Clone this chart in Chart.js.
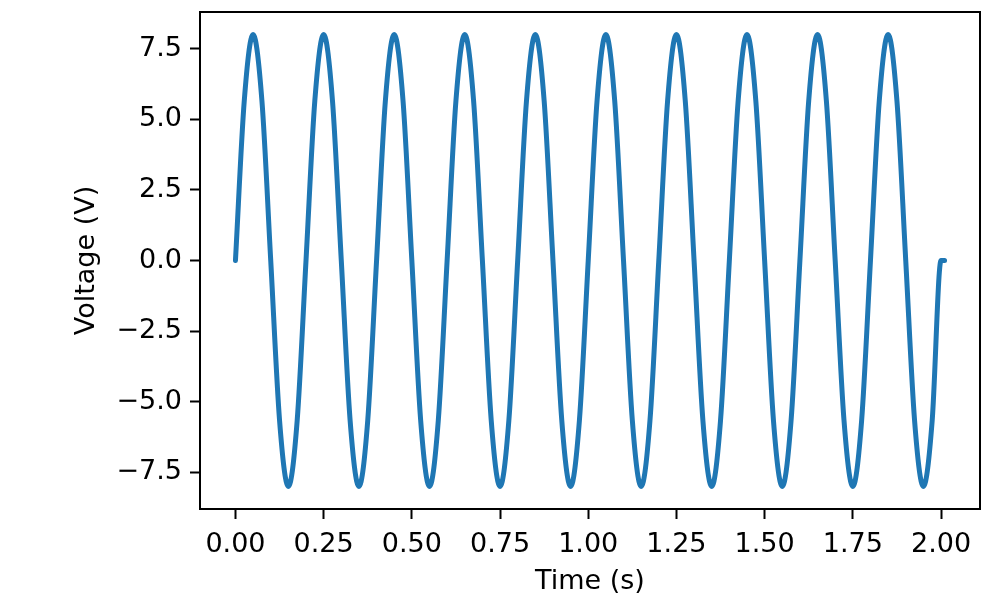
<!DOCTYPE html>
<html>
<head>
<meta charset="utf-8">
<script src="https://cdn.jsdelivr.net/npm/chart.js@4.4.1/dist/chart.umd.min.js"></script>
<style>
  body { margin: 0; background: #fff; }
  #wrap { width: 1000px; height: 600px; }
</style>
</head>
<body>
<div id="wrap"><canvas id="voltageChart" width="1000" height="600"></canvas></div>
<script>
// sample times (s), every 1/8 period
const times = [
  0.000, 0.025, 0.050, 0.075, 0.100, 0.125, 0.150, 0.175,
  0.200, 0.225, 0.250, 0.275, 0.300, 0.325, 0.350, 0.375,
  0.400, 0.425, 0.450, 0.475, 0.500, 0.525, 0.550, 0.575,
  0.600, 0.625, 0.650, 0.675, 0.700, 0.725, 0.750, 0.775,
  0.800, 0.825, 0.850, 0.875, 0.900, 0.925, 0.950, 0.975,
  1.000, 1.025, 1.050, 1.075, 1.100, 1.125, 1.150, 1.175,
  1.200, 1.225, 1.250, 1.275, 1.300, 1.325, 1.350, 1.375,
  1.400, 1.425, 1.450, 1.475, 1.500, 1.525, 1.550, 1.575,
  1.600, 1.625, 1.650, 1.675, 1.700, 1.725, 1.750, 1.775,
  1.800, 1.825, 1.850, 1.875, 1.900, 1.925, 1.950, 1.975,
  2.000, 2.010
];

// voltage (V) at those times
const voltage = [
  0, 5.66, 8, 5.66, 0, -5.66, -8, -5.66,
  0, 5.66, 8, 5.66, 0, -5.66, -8, -5.66,
  0, 5.66, 8, 5.66, 0, -5.66, -8, -5.66,
  0, 5.66, 8, 5.66, 0, -5.66, -8, -5.66,
  0, 5.66, 8, 5.66, 0, -5.66, -8, -5.66,
  0, 5.66, 8, 5.66, 0, -5.66, -8, -5.66,
  0, 5.66, 8, 5.66, 0, -5.66, -8, -5.66,
  0, 5.66, 8, 5.66, 0, -5.66, -8, -5.66,
  0, 5.66, 8, 5.66, 0, -5.66, -8, -5.66,
  0, 5.66, 8, 5.66, 0, -5.66, -8, -5.66,
  0, 0
];

const xTicks = [0, 0.25, 0.5, 0.75, 1.0, 1.25, 1.5, 1.75, 2.0];
const yTicks = [-7.5, -5.0, -2.5, 0, 2.5, 5.0, 7.5];

const FONT = "'DejaVu Sans', sans-serif";
const minus = (s) => s.replace("-", "\u2212");

// matplotlib-style box around the plot area
const frame = {
  id: "frame",
  afterDraw(chart) {
    const { ctx, chartArea: a } = chart;
    ctx.save();
    ctx.strokeStyle = "#000";
    ctx.lineWidth = 2;
    ctx.strokeRect(a.left, a.top, a.right - a.left, a.bottom - a.top);
    ctx.restore();
  },
};

const tickGrid = {
  drawOnChartArea: false,
  drawTicks: true,
  tickLength: 10,
  tickWidth: 2,
  tickColor: "#000",
};

new Chart(document.getElementById("voltageChart").getContext("2d"), {
  type: "line",
  data: {
    datasets: [
      {
        label: "Voltage",
        data: times.map((t, i) => ({ x: t, y: voltage[i] })),
        borderColor: "#1f77b4",
        backgroundColor: "#1f77b4",
        borderWidth: 5,
        borderCapStyle: "round",
        borderJoinStyle: "round",
        pointRadius: 0,
        cubicInterpolationMode: "monotone",
        fill: false,
      },
    ],
  },
  options: {
    responsive: false,
    animation: false,
    devicePixelRatio: 1,
    layout: { padding: { top: 12, right: 20, left: 0, bottom: 0 } },
    plugins: { legend: { display: false }, tooltip: { enabled: false } },
    scales: {
      x: {
        type: "linear",
        min: -0.1005,
        max: 2.1105,
        afterBuildTicks: (scale) => {
          scale.ticks = xTicks.map((v) => ({ value: v }));
        },
        afterFit: (scale) => {
          scale.height = 91;
          scale.paddingLeft = 0;
          scale.paddingRight = 0;
        },
        grid: tickGrid,
        border: { display: false },
        ticks: {
          autoSkip: false,
          maxRotation: 0,
          padding: 10,
          color: "#000",
          font: { family: FONT, size: 27 },
          callback: (v) => minus(Number(v).toFixed(2)),
        },
        title: {
          display: true,
          text: "Time (s)",
          color: "#000",
          font: { family: FONT, size: 27 },
          padding: { top: 0, bottom: 2 },
        },
      },
      y: {
        type: "linear",
        min: -8.8,
        max: 8.8,
        afterBuildTicks: (scale) => {
          scale.ticks = yTicks.map((v) => ({ value: v }));
        },
        afterFit: (scale) => {
          scale.width = 200;
          scale.paddingTop = 0;
          scale.paddingBottom = 0;
        },
        grid: tickGrid,
        border: { display: false },
        ticks: {
          autoSkip: false,
          padding: 8,
          color: "#000",
          font: { family: FONT, size: 27 },
          callback: (v) => minus(Number(v).toFixed(1)),
        },
        title: {
          display: true,
          text: "Voltage (V)",
          color: "#000",
          font: { family: FONT, size: 27 },
          padding: { top: 71, bottom: 0 },
        },
      },
    },
  },
  plugins: [frame],
});
</script>
</body>
</html>
